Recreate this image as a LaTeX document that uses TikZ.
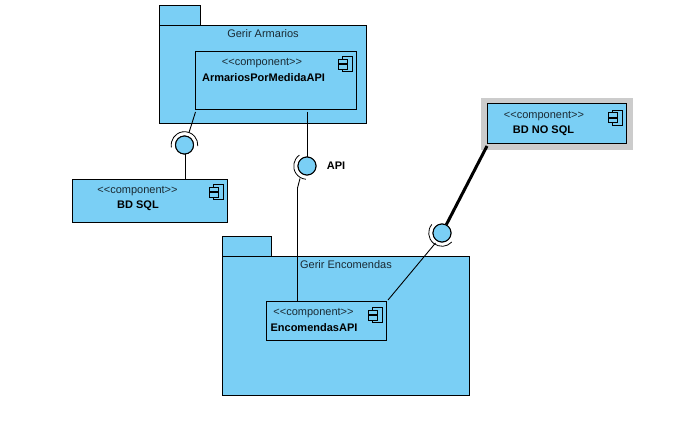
\documentclass[tikz,border=0pt]{standalone}
\usepackage{fontspec}
\setmainfont{Liberation Sans}
\newcommand{\cst}{<{}<component>{}>}
\definecolor{fillblue}{HTML}{7ACFF5}
\definecolor{txt}{HTML}{1A2A33}
\tikzset{
  pkg/.style={draw=black,fill=fillblue,line width=1pt,rectangle,inner sep=0pt},
  comp/.style={pkg},
  ballnode/.style={circle,draw=black,fill=fillblue,line width=1pt,minimum size=18pt,inner sep=0pt},
  label/.style={inner sep=0pt,text=txt,font=\fontsize{11}{13}\selectfont},
  blabel/.style={inner sep=0pt,text=black,font=\fontsize{11}{13}\selectfont\bfseries},
  wire/.style={draw=black,line width=0.9pt},
  thickwire/.style={draw=black,line width=3pt},
  socket/.style={draw=black,line width=0.8pt},
  compicon/.pic={
    \draw[black,line width=0.8pt,fill=fillblue] (4.5,0) rectangle (14,15);
    \draw[black,line width=0.8pt,fill=fillblue] (0,2.5) rectangle (9,7);
    \draw[black,line width=0.8pt,fill=fillblue] (0,8) rectangle (9,12.5);
  }
}
\begin{document}
\begin{tikzpicture}[x=1pt,y=-1pt]
\useasboundingbox (0,0) rectangle (679,441);
% packages
\node[pkg,minimum width=41pt,minimum height=20pt] (tabA) at (180,15.5) {};
\node[pkg,minimum width=206.5pt,minimum height=97.5pt] (pkgA) at (262.75,74.25) {};
\node[pkg,minimum width=49pt,minimum height=20pt] (tabE) at (247,246.5) {};
\node[pkg,minimum width=246.5pt,minimum height=139pt] (pkgE) at (345.75,326) {};
% selection band
\node[fill=black!20,draw=none,minimum width=152pt,minimum height=52pt,inner sep=0pt] (sel) at (557,124) {};
% balls
\node[ballnode] (ballS) at (184.5,145) {};
\node[ballnode] (ballA) at (307,166) {};
\node[ballnode] (ballN) at (442,233) {};
% end points
\coordinate (aS) at (195.5,112);
\coordinate (bS) at (189,132.5);
\coordinate (aA) at (307,112);
\coordinate (bE1) at (300,178.5);
\coordinate (bE2) at (297.5,188);
\coordinate (cE1) at (297.5,301);
\coordinate (dE) at (388,300);
\coordinate (bN) at (435.5,243);
\coordinate (nN) at (487,146);
\coordinate (sS1) at (185,150);
% components
\node[comp,minimum width=161pt,minimum height=58.5pt] (cA) at (276,80.75) {};
\node[comp,minimum width=155pt,minimum height=42.5pt] (cS) at (150,200.75) {};
\node[comp,minimum width=139pt,minimum height=39pt] (cN) at (557,123.5) {};
\node[comp,minimum width=120pt,minimum height=39.5pt] (cE) at (326.5,320.75) {};
% connectors
\draw[wire] (aS) -- (bS);
\draw[wire] (sS1) -- (sS1 |- cS.north);
\draw[wire] (aA) -- (ballA);
\draw[wire] (bE1) -- (bE2) -- (cE1);
\draw[wire] (bN) -- (dE);
\draw[thickwire] (nN) -- (ballN);
\node[ballnode] at (ballS) {};
\node[ballnode] at (ballA) {};
\node[ballnode] at (ballN) {};
% sockets
\draw[socket] (ballS.center) ++(190:13.3pt) arc[start angle=190,end angle=-5,radius=13.3pt];
\draw[socket] (ballA.center) ++(125:13.3pt) arc[start angle=125,end angle=265,radius=13.3pt];
\draw[socket] (ballN.center) ++(140:13.3pt) arc[start angle=140,end angle=317,radius=13.3pt];
% icons
\pic at (338,56.5) {compicon};
\pic at (209,184.5) {compicon};
\pic at (608,110) {compicon};
\pic at (368,307.5) {compicon};
% labels
\node[label] (lA) at (263,33.5) {Gerir Armarios};
\node[label] (lE) at (346,264.5) {Gerir Encomendas};
\node[label] (sA) at (262,63.5) {\cst};
\node[blabel] (tA) at (263.5,77.5) {ArmariosPorMedidaAPI};
\node[label] (sS) at (137.5,191.5) {\cst};
\node[blabel] (tS) at (138,205.5) {BD SQL};
\node[label] (sN) at (544,116.5) {\cst};
\node[blabel] (tN) at (543.5,130.5) {BD NO SQL};
\node[label] (sE) at (313.5,313.5) {\cst};
\node[blabel] (tE) at (314,327.5) {EncomendasAPI};
\node[blabel] (api) at (336,165.5) {API};
\end{tikzpicture}
\end{document}
